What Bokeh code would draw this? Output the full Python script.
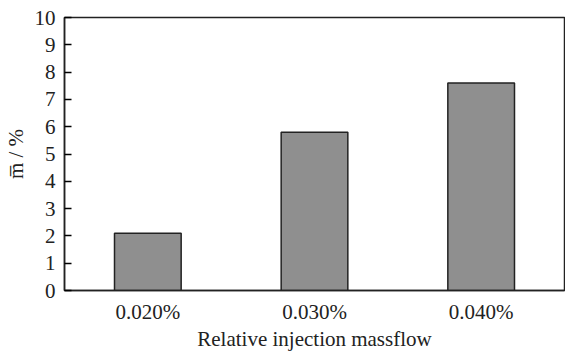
from bokeh.plotting import figure
from bokeh.models import FixedTicker, Range1d
from bokeh.embed import file_html
from bokeh.resources import INLINE

categories = ["0.020%", "0.030%", "0.040%"]
values = [2.1, 5.8, 7.6]
y_ticks = list(range(0, 11))

FONT = "Liberation Serif"

p = figure(width=565, height=353, x_range=categories, y_range=Range1d(0, 10),
           output_backend="svg", toolbar_location=None,
           min_border_left=10, min_border_right=1, min_border_top=17, min_border_bottom=5)

p.vbar(x=categories, top=values, width=0.4, fill_color="#8f8f8f",
       line_color="#222222", line_width=1.5)

p.xgrid.visible = False
p.ygrid.visible = False
p.outline_line_color = "#222222"
p.outline_line_width = 1.5

p.yaxis.ticker = FixedTicker(ticks=y_ticks)
p.yaxis.major_tick_in = 7
p.yaxis.major_tick_out = 0
p.yaxis.minor_tick_line_color = None
p.yaxis.major_tick_line_width = 1.5
p.yaxis.axis_line_width = 1.5
p.yaxis.axis_line_color = "#222222"
p.yaxis.major_label_text_font = FONT
p.yaxis.major_label_text_font_size = "21px"
p.yaxis.major_label_text_color = "#222222"
p.yaxis.major_label_standoff = 9
p.yaxis.axis_label = "m\u0305 / %"
p.yaxis.axis_label_text_font = FONT
p.yaxis.axis_label_text_font_size = "21px"
p.yaxis.axis_label_text_font_style = "normal"
p.yaxis.axis_label_text_color = "#222222"
p.yaxis.axis_label_standoff = 4

p.xaxis.major_tick_line_color = None
p.xaxis.minor_tick_line_color = None
p.xaxis.axis_line_width = 1.5
p.xaxis.axis_line_color = "#222222"
p.xaxis.major_label_text_font = FONT
p.xaxis.major_label_text_font_size = "21px"
p.xaxis.major_label_text_color = "#222222"
p.xaxis.major_label_standoff = 3
p.xaxis.axis_label = "Relative injection massflow"
p.xaxis.axis_label_text_font = FONT
p.xaxis.axis_label_text_font_size = "21px"
p.xaxis.axis_label_text_font_style = "normal"
p.xaxis.axis_label_text_color = "#222222"
p.xaxis.axis_label_standoff = 0

open("out.html", "w").write(file_html(p, INLINE))
